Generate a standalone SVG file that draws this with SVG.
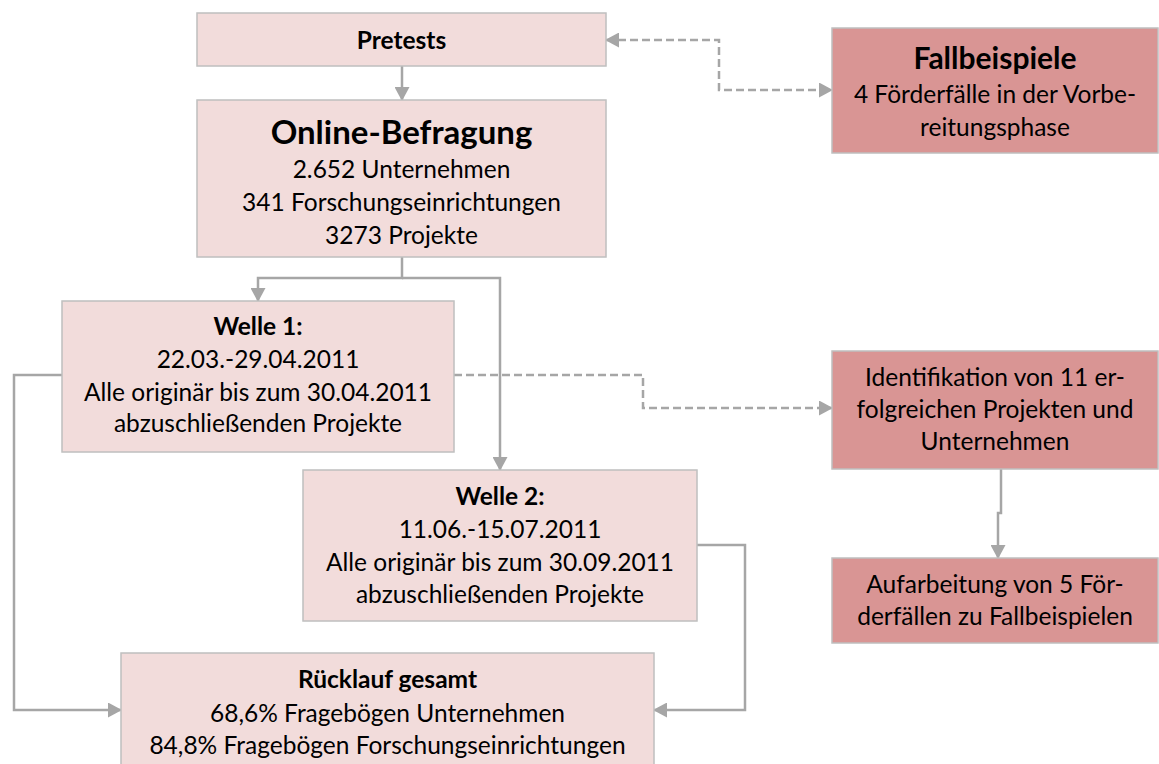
<svg xmlns="http://www.w3.org/2000/svg" width="1159" height="764" viewBox="0 0 1159 764">
<defs>
<style>
.light{fill:#f2dcdb;stroke:#bfbfbf;stroke-width:1.5}
.dark{fill:#d99594;stroke:#bfbfbf;stroke-width:1.5}
text{font-family:Lato,"Liberation Sans",sans-serif;font-size:24.5px;fill:#000;text-anchor:middle}
.b{font-weight:bold}
.big{font-weight:bold;font-size:30px}
.huge{font-weight:bold;font-size:33px}
.con{fill:none;stroke:#a6a6a6;stroke-width:2.5}
.dash{stroke-dasharray:8 4}
</style>
<marker id="ah" markerUnits="userSpaceOnUse" markerWidth="14" markerHeight="15" refX="13" refY="7.5" orient="auto">
<path d="M0,0 L14,7.5 L0,15 z" fill="#a6a6a6"/>
</marker>
<marker id="as" markerUnits="userSpaceOnUse" markerWidth="14" markerHeight="15" refX="13" refY="7.5" orient="auto-start-reverse">
<path d="M0,0 L14,7.5 L0,15 z" fill="#a6a6a6"/>
</marker>
</defs>
<g id="connectors">
<path class="con" d="M402,66 V100" marker-end="url(#ah)"/>
<path class="con" d="M402,257 V278 H258 V301" marker-end="url(#ah)"/>
<path class="con" d="M402,278 H500 V470" marker-end="url(#ah)"/>
<path class="con dash" d="M606,40 H719 V90 H832" marker-start="url(#as)" marker-end="url(#ah)"/>
<path class="con dash" d="M454,375 H643 V408 H832" marker-end="url(#ah)"/>
<path class="con" d="M62,375 H14 V710 H121" marker-end="url(#ah)"/>
<path class="con" d="M697,545 H745 V710 H654" marker-end="url(#ah)"/>
<path class="con" d="M1001,469 V513 H998 V558" marker-end="url(#ah)"/>
</g>
<g id="pretests">
<rect class="light" x="197" y="13" width="409" height="53"/>
<text class="b" x="401.5" y="49">Pretests</text>
</g>
<g id="online">
<rect class="light" x="197" y="100" width="409" height="157"/>
<text class="huge" x="401.5" y="144">Online-Befragung</text>
<text x="401.5" y="178">2.652 Unternehmen</text>
<text x="401.5" y="211">341 Forschungseinrichtungen</text>
<text x="401.5" y="244">3273 Projekte</text>
</g>
<g id="welle1">
<rect class="light" x="62" y="301" width="392" height="151"/>
<text class="b" x="258" y="335">Welle 1:</text>
<text x="258" y="368">22.03.-29.04.2011</text>
<text x="258" y="401">Alle originär bis zum 30.04.2011</text>
<text x="258" y="432">abzuschließenden Projekte</text>
</g>
<g id="welle2">
<rect class="light" x="303" y="470" width="394" height="151"/>
<text class="b" x="500" y="505">Welle 2:</text>
<text x="500" y="538">11.06.-15.07.2011</text>
<text x="500" y="571">Alle originär bis zum 30.09.2011</text>
<text x="500" y="603">abzuschließenden Projekte</text>
</g>
<g id="ruecklauf">
<rect class="light" x="121" y="653" width="533" height="130"/>
<text class="b" x="387.5" y="688">Rücklauf gesamt</text>
<text x="387.5" y="722">68,6% Fragebögen Unternehmen</text>
<text x="387.5" y="754">84,8% Fragebögen Forschungseinrichtungen</text>
</g>
<g id="fallbeispiele">
<rect class="dark" x="832" y="28" width="326" height="125"/>
<text class="big" x="995" y="69">Fallbeispiele</text>
<text x="995" y="103">4 Förderfälle in der Vorbe-</text>
<text x="995" y="136">reitungsphase</text>
</g>
<g id="identifikation">
<rect class="dark" x="832" y="351" width="326" height="118"/>
<text x="995" y="386">Identifikation von 11 er-</text>
<text x="995" y="418">folgreichen Projekten und</text>
<text x="995" y="450">Unternehmen</text>
</g>
<g id="aufarbeitung">
<rect class="dark" x="832" y="558" width="326" height="85"/>
<text x="995" y="593">Aufarbeitung von 5 För-</text>
<text x="995" y="625">derfällen zu Fallbeispielen</text>
</g>
</svg>
